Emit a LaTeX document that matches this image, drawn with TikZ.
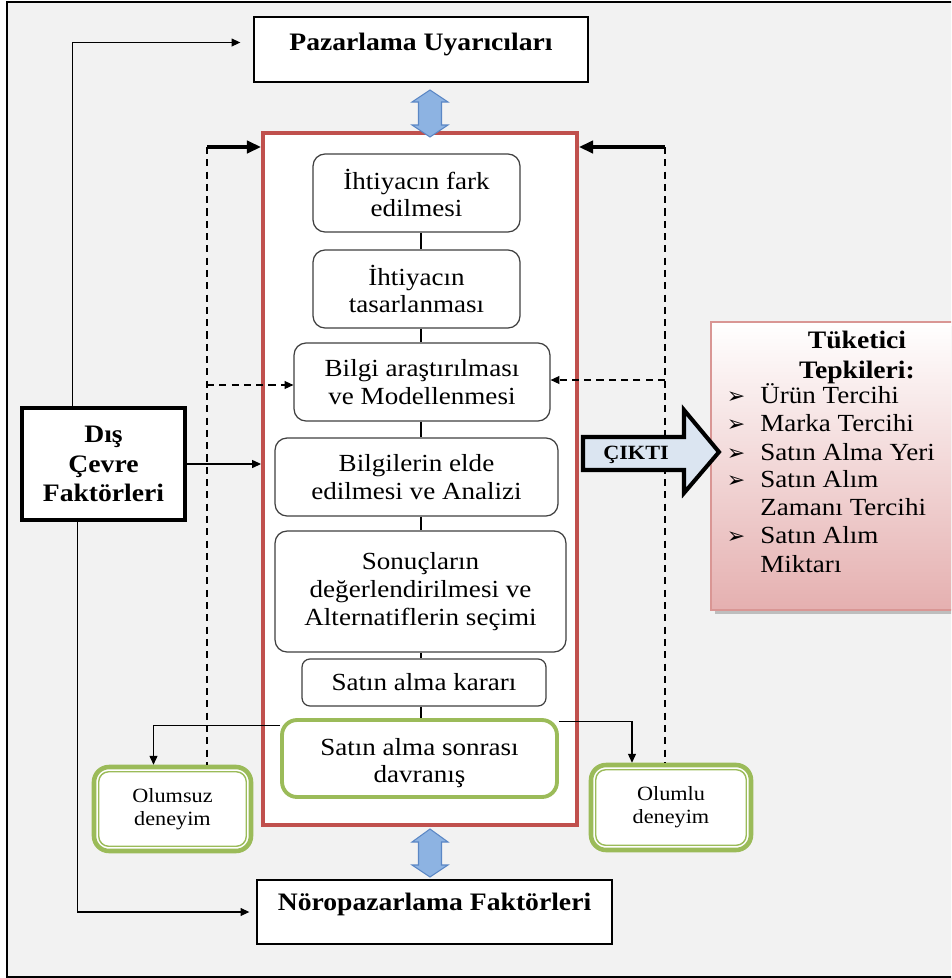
\documentclass[tikz,border=0pt]{standalone}
\usepackage{fontspec}
\setmainfont{Liberation Serif}[FakeStretch=1.1]
\newfontfamily\dejavu{DejaVu Sans}
\usetikzlibrary{arrows.meta,calc,shadows}
\definecolor{bg}{HTML}{F2F2F2}
\definecolor{redc}{HTML}{C0504D}
\definecolor{grn}{HTML}{9BBB59}
\definecolor{boxgray}{HTML}{404040}
\definecolor{blueA}{HTML}{8DB3E2}
\definecolor{blueB}{HTML}{5B87C5}
\definecolor{ciktifill}{HTML}{DBE5F1}
\definecolor{pinkB}{HTML}{D99694}
\definecolor{pinkbot}{HTML}{E5B0B0}
\newcommand\fbody{\fontsize{14}{15.8}\selectfont}
\newcommand\ftitle{\fontsize{14.3}{17}\selectfont\bfseries}
\newcommand\fsmall{\fontsize{11.5}{13}\selectfont}
\newcommand\bul{{\dejavu\fontsize{12.5}{12.5}\selectfont ➢}}
\begin{document}
\begin{tikzpicture}[x=0.02cm,y=-0.02cm,
  proc/.style={draw=boxgray, line width=0.7pt, fill=white, rounded corners=0.24cm,
    align=center, inner sep=0pt, font=\fbody},
  plain/.style={draw=black, line width=0.8pt, fill=white, inner sep=0pt},
  arr/.style={-{Triangle[length=5pt,width=4.5pt]}, line width=0.6pt},
  thk/.style={-{Triangle[length=8pt,width=7pt]}, line width=1.8pt},
  dsh/.style={dash pattern=on 4pt off 3pt, line width=0.7pt},
  greenbox/.style={draw=grn, line width=2.6pt, fill=white, rounded corners=0.3cm,
    align=center, inner sep=0pt, font=\fsmall},
  innergreen/.style={draw=grn, line width=0.8pt, rounded corners=0.2cm},
  item/.style={anchor=mid west, font=\fbody, inner sep=0pt},
  bullet/.style={anchor=mid, inner sep=0pt}
]
\useasboundingbox (0,0) rectangle (951,978);
\clip (0,0) rectangle (951,978);
\fill[white] (0,0) rectangle (951,978);
\filldraw[fill=bg, draw=black, line width=1.2pt] (7,2) rectangle (1010,977);

% top and bottom boxes
\node[plain, minimum width=6.68cm, minimum height=1.30cm] (pu) at (421,49.5) {};
\node[font=\ftitle] (put) at (421,44) {Pazarlama Uyarıcıları};
\node[plain, minimum width=7.10cm, minimum height=1.28cm] (np) at (434.5,912) {};
\node[font=\ftitle] (npt) at (434.5,904) {Nöropazarlama Faktörleri};

% red container
\node[draw=redc, line width=2.3pt, fill=white, minimum width=6.28cm, minimum height=13.84cm, inner sep=0pt] (rc) at (420,479) {};

% blue double arrows
\draw[fill=blueA, draw=blueB, line width=0.6pt, line join=miter]
  (430,90) -- (448,102) -- (441.5,102) -- (441.5,125) -- (448,125) -- (430,137)
  -- (412,125) -- (418.5,125) -- (418.5,102) -- (412,102) -- cycle;
\draw[fill=blueA, draw=blueB, line width=0.6pt, line join=miter]
  (430,829) -- (448,842) -- (441.5,842) -- (441.5,865) -- (448,865) -- (430,877)
  -- (412,865) -- (418.5,865) -- (418.5,842) -- (412,842) -- cycle;

% process boxes
\node[proc, minimum width=4.14cm, minimum height=1.56cm] (b1) at (416.5,193) {İhtiyacın fark\\edilmesi};
\node[proc, minimum width=4.14cm, minimum height=1.56cm] (b2) at (416.5,289) {İhtiyacın\\tasarlanması};
\node[proc, minimum width=5.12cm, minimum height=1.56cm] (b3) at (422,382) {Bilgi araştırılması\\ve Modellenmesi};
\node[proc, minimum width=5.66cm, minimum height=1.56cm] (b4) at (416.5,477) {Bilgilerin elde\\edilmesi ve Analizi};
\node[proc, minimum width=5.82cm, minimum height=2.42cm] (b5) at (420.5,591.5) {Sonuçların\\değerlendirilmesi ve\\Alternatiflerin seçimi};
\node[proc, rounded corners=0.16cm, minimum width=4.88cm, minimum height=0.94cm] (b6) at (424,682.5) {Satın alma kararı};
\node[greenbox, line width=2.2pt, rounded corners=0.3cm, minimum width=5.50cm, minimum height=1.54cm] (b7) at (419.5,758.5) {};
\node[font=\fbody, align=center, inner sep=0pt] (b7t) at (419.5,763) {Satın alma sonrası\\davranış};

\coordinate (ax) at (421,0);
\draw[line width=0.6pt] (b1.south -| ax) -- (b2.north -| ax);
\draw[line width=0.6pt] (b2.south -| ax) -- (b3.north -| ax);
\draw[line width=0.6pt] (b3.south -| ax) -- (b4.north -| ax);
\draw[line width=0.6pt] (b4.south -| ax) -- (b5.north -| ax);
\draw[line width=0.6pt] (b5.south -| ax) -- (b6.north -| ax);
\draw[line width=0.6pt] (b6.south -| ax) -- (b7.north -| ax);

% experience boxes
\node[greenbox, minimum width=3.14cm, minimum height=1.68cm] (osz) at (172.5,809) {Olumsuz\\deneyim};
\draw[innergreen] ($(osz.north west)+(7,7)$) rectangle ($(osz.south east)+(-7,-7)$);
\node[greenbox, minimum width=3.20cm, minimum height=1.70cm] (olm) at (671,807.5) {Olumlu\\deneyim};
\draw[innergreen] ($(olm.north west)+(7,7)$) rectangle ($(olm.south east)+(-7,-7)$);

\draw[arr] ($(b7.north west)+(0,7)$) -| ($(osz.north)+(-19,0)$);
\draw[arr] ($(b7.north east)+(0,3)$) -| ($(olm.north)+(-39,0)$);

% dashed feedback lines
\coordinate (tl) at (207,147);
\coordinate (tr) at (665,147);
\draw[dsh] (tl) -- (tl |- osz.north);
\draw[dsh] (tr) -- (tr |- olm.north);
\draw[thk] (tl) -- (tl -| rc.west);
\draw[thk] (tr) -- (tr -| rc.east);
\draw[dsh, arr] ($(tl |- b3.west)+(0,3)$) -- ($(b3.west)+(0,3)$);
\draw[dsh, arr] ($(tr |- b3.east)+(0,-2)$) -- ($(b3.east)+(0,-2)$);

% Dis Cevre Faktorleri
\node[draw=black, line width=2.6pt, fill=white, minimum width=3.26cm, minimum height=2.24cm,
  align=center, inner sep=0pt, font=\ftitle] (dc) at (103.5,464) {Dış\\Çevre\\Faktörleri};
\draw[arr] ($(dc.north west)+(53,0)$) |- ($(pu.west)+(-13,-7)$);
\draw[arr] ($(dc.south west)+(58,0)$) |- ($(np.west)+(-7,0)$);
\draw[arr] (dc.east) -- (dc.east -| rc.west);

% Tuketici Tepkileri box
\node[draw=pinkB, line width=0.8pt, top color=white, bottom color=pinkbot,
  drop shadow={shadow xshift=2.5pt, shadow yshift=-2.5pt, fill=black!45},
  minimum width=5.78cm, minimum height=5.76cm, inner sep=0pt] (tk) at (855.5,466) {};
\node[font=\ftitle, align=center, inner sep=0pt] (tkt) at (857,357.5) {Tüketici\\Tepkileri:};
\node[bullet] (k1) at (736,399) {\bul};
\node[item] (i1) at (760,399) {Ürün Tercihi};
\node[bullet] (k2) at (736,427) {\bul};
\node[item] (i2) at (760,427) {Marka Tercihi};
\node[bullet] (k3) at (736,456) {\bul};
\node[item] (i3) at (760,456) {Satın Alma Yeri};
\node[bullet] (k4) at (736,483) {\bul};
\node[item] (i4) at (760,483) {Satın Alım};
\node[item] (i4b) at (760,511) {Zamanı Tercihi};
\node[bullet] (k5) at (736,539) {\bul};
\node[item] (i5) at (760,539) {Satın Alım};
\node[item] (i5b) at (760,568) {Miktarı};

% CIKTI arrow
\draw[fill=ciktifill, draw=black, line width=2.3pt, line join=miter]
  (583,437) -- (684,437) -- (684,410) -- (719,452) -- (684,493) -- (684,470) -- (583,470) -- cycle;
\node[font=\fontsize{11.5}{13}\selectfont\bfseries, inner sep=0pt] (ck) at (636,455) {ÇIKTI};
\end{tikzpicture}
\end{document}
